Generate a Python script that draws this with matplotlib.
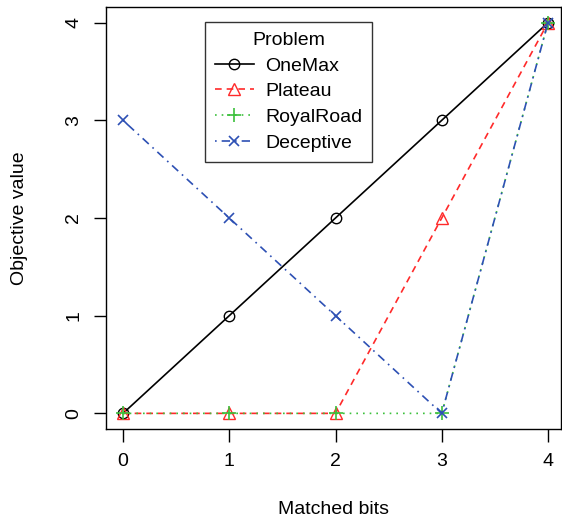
import matplotlib
matplotlib.use("Agg")
import matplotlib.pyplot as plt

plt.rcParams['font.family'] = ['Liberation Sans', 'DejaVu Sans']

bits = [0, 1, 2, 3, 4]
onemax = [0, 1, 2, 3, 4]
plateau = [0, 0, 0, 2, 4]
royalroad = [0, 0, 0, 0, 4]
deceptive = [3, 2, 1, 0, 4]
names = ["OneMax", "Plateau", "RoyalRoad", "Deceptive"]

fig = plt.figure(figsize=(5.62, 5.22), dpi=100)
ax = fig.add_axes([106/562, 93/522, (561-106)/562, 422/522])

red = '#ff2a2a'
green = '#3cc03c'
blue = '#2d50b4'

ax.plot(bits, onemax, color='black', ls='-', lw=1.2, marker='o', mfc='none', mec='black', ms=7.5, label=names[0])
ax.plot(bits, plateau, color=red, ls=(0, (4, 3)), lw=1.2, marker='^', mfc='none', mec=red, ms=8.5, label=names[1])
ax.plot(bits, royalroad, color=green, ls=(0, (1, 3)), lw=1.2, marker='+', mec=green, ms=10, mew=1.2, label=names[2])
ax.plot(bits, deceptive, color=blue, ls=(0, (1, 3, 5, 3)), lw=1.2, marker='x', mec=blue, ms=7.5, mew=1.2, label=names[3])

ax.set_xlim(-0.16, (561-123)/106.25)
ax.set_ylim(-0.16, 4.16)
ax.set_xticks(bits)
ax.set_yticks([0, 1, 2, 3, 4])
ax.tick_params(direction='out', length=9, width=1, labelsize=14, pad=8)
for lab in ax.get_yticklabels():
    lab.set_rotation(90)
    lab.set_va('center')
for s in ax.spines.values():
    s.set_linewidth(1)

fig.text(333/562, 1 - 510/522, "Matched bits", ha='center', va='center', fontsize=14)
fig.text(20/562, 1 - 218/522, "Objective value", ha='center', va='center', fontsize=14, rotation=90)

leg = ax.legend(title="Problem", loc='upper left', bbox_to_anchor=((205-106)/455, 1 - (22-7)/422),
                frameon=True, fancybox=False, fontsize=14, title_fontsize=14,
                handlelength=2.0, borderpad=0.5, labelspacing=0.42, handletextpad=0.6,
                borderaxespad=0)
leg.get_frame().set_edgecolor('black')
leg.get_frame().set_linewidth(1)

fig.savefig("out.png", dpi=100)
